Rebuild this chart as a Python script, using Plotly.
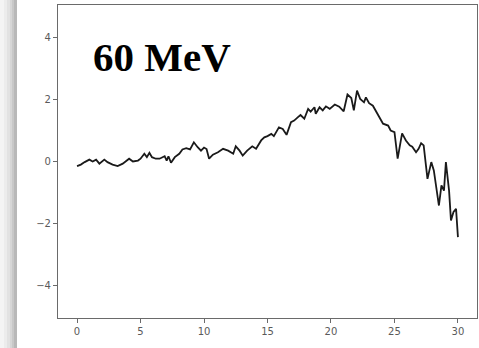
import plotly.graph_objects as go

x_vals = [
    0, 0.3, 0.6, 0.97, 1.23, 1.5, 1.76, 2.15, 2.4, 2.8,
    3.2, 3.6, 4.1, 4.4, 4.8, 5.0, 5.3, 5.5, 5.7, 5.9,
    6.2, 6.5, 6.9, 7.06, 7.2, 7.4, 7.7, 8.05, 8.3, 8.6,
    8.9, 9.2, 9.5, 9.76, 10.0, 10.2, 10.4, 10.7, 11.1, 11.5,
    11.9, 12.3, 12.5, 12.8, 13.05, 13.4, 13.8, 14.1, 14.5, 14.75,
    15.0, 15.3, 15.5, 15.9, 16.2, 16.5, 16.85, 17.1, 17.4, 17.6,
    17.9, 18.2, 18.4, 18.7, 18.8, 19.1, 19.35, 19.6, 19.9, 20.3,
    20.65, 21.0, 21.3, 21.6, 21.8, 22.05, 22.3, 22.6, 22.75, 23.0,
    23.3, 23.5, 23.8, 24.1, 24.5, 24.7, 25.0, 25.25, 25.6, 25.9,
    26.2, 26.4, 26.7, 26.9, 27.1, 27.3, 27.6, 27.9, 28.1, 28.5,
    28.7, 28.9, 29.05, 29.3, 29.45, 29.65, 29.85, 30.0,
]
y_vals = [
    -0.15, -0.1, -0.02, 0.06, 0.0, 0.06, -0.07, 0.06, -0.02, -0.1,
    -0.15, -0.07, 0.09, 0.0, 0.03, 0.09, 0.25, 0.14, 0.28, 0.14,
    0.09, 0.09, 0.17, 0.03, 0.17, -0.04, 0.14, 0.25, 0.39, 0.43,
    0.39, 0.62, 0.46, 0.35, 0.45, 0.4, 0.09, 0.22, 0.3, 0.41,
    0.35, 0.25, 0.49, 0.35, 0.19, 0.35, 0.49, 0.41, 0.68, 0.78,
    0.82, 0.89, 0.82, 1.1, 1.05, 0.86, 1.27, 1.32, 1.43, 1.5,
    1.38, 1.7, 1.61, 1.75, 1.54, 1.75, 1.65, 1.78, 1.7, 1.84,
    1.77, 1.62, 2.16, 2.05, 1.65, 2.29, 2.02, 1.91, 2.07, 1.88,
    1.8, 1.65, 1.43, 1.22, 1.16, 1.0, 0.95, 0.09, 0.91, 0.68,
    0.52, 0.48, 0.3, 0.41, 0.59, 0.52, -0.56, -0.02, -0.29, -1.42,
    -0.77, -0.94, -0.02, -0.94, -1.9, -1.63, -1.53, -2.44,
]
x_ticks = [0, 5, 10, 15, 20, 25, 30]
y_ticks = [-4, -2, 0, 2, 4]
y_tick_labels = ["\u22124", "\u22122", "0", "2", "4"]
label_text = "60 MeV"

W, H = 479, 348
ML, MR, MT, MB = 58, 2, 5, 30
pw = W - ML - MR

fig = go.Figure()
fig.add_trace(go.Scatter(
    x=x_vals, y=y_vals, mode="lines",
    line=dict(color="#1a1a1a", width=1.8),
    showlegend=False, hoverinfo="skip",
))

axis_common = dict(
    showgrid=False, zeroline=False, showline=True, mirror=True,
    linecolor="#6a6a6a", linewidth=1.2,
    ticks="outside", ticklen=4, tickcolor="#6a6a6a", tickwidth=1,
    tickfont=dict(family="DejaVu Sans", size=10, color="#5a5a5a"),
)
fig.update_xaxes(range=[-1.5, 31.5], tickvals=x_ticks, **axis_common)
fig.update_yaxes(range=[-5.05, 5.05], tickvals=y_ticks, ticktext=y_tick_labels, **axis_common)

# left drop-shadow of the framed picture
shade = ["#f4f4f4", "#ececec", "#e2e2e2", "#d6d6d6", "#c8c8c8", "#b8b8b8"]
shapes = []
edges = [0, 4, 7, 10, 12, 14, 17]
for i, c in enumerate(shade):
    shapes.append(dict(
        type="rect", xref="paper", yref="paper", layer="below",
        x0=(edges[i] - ML) / pw, x1=(edges[i + 1] - ML) / pw,
        y0=-1, y1=2, fillcolor=c, line=dict(width=0),
    ))

fig.update_layout(
    width=W, height=H,
    margin=dict(l=ML, r=MR, t=MT, b=MB),
    paper_bgcolor="white", plot_bgcolor="white",
    shapes=shapes,
    annotations=[dict(
        text="<b>" + label_text + "</b>", xref="paper", yref="paper",
        x=(91 - ML) / pw, y=(318 - 57) / (H - MT - MB),
        xanchor="left", yanchor="middle", showarrow=False,
        font=dict(family="Liberation Serif", size=41, color="black"),
    )],
)

fig.write_html(
    "out.html",
    config={"displayModeBar": False},
    post_script="document.body.style.margin='0';document.body.style.padding='0';",
)
